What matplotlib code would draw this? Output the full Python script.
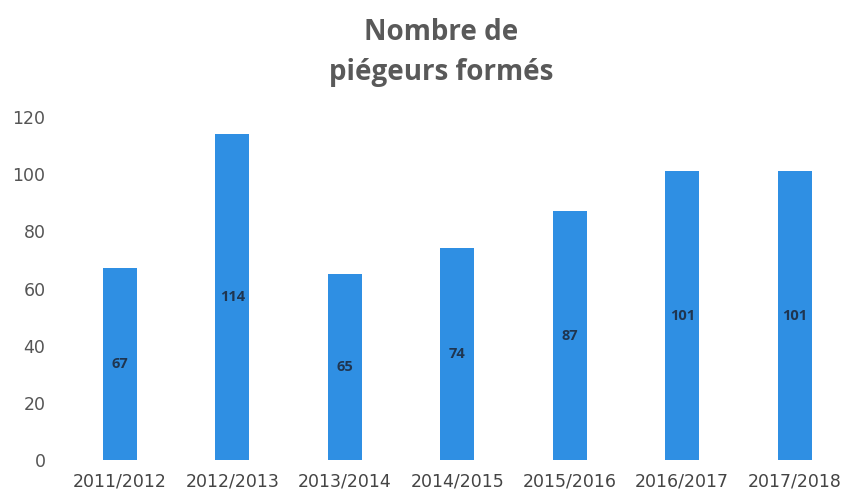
import matplotlib
matplotlib.use("Agg")
import matplotlib.pyplot as plt

categories = ["2011/2012", "2012/2013", "2013/2014", "2014/2015",
              "2015/2016", "2016/2017", "2017/2018"]
values = [67, 114, 65, 74, 87, 101, 101]
yticks = [0, 20, 40, 60, 80, 100, 120]

fig = plt.figure(figsize=(8.51, 5.0), dpi=100)
ax = fig.add_axes([63.5/851, (500-460)/500, (851-63.5)/851, (460-117)/500])

x = list(range(len(categories)))
ax.bar(x, values, width=0.3, color="#2F8FE3")
for xi, v in zip(x, values):
    ax.text(xi, v/2, str(v), ha="center", va="center", fontsize=10.5,
            fontweight="bold", color="#1F3550", family="Open Sans")

ax.set_xlim(-0.5, len(categories) - 0.5)
ax.set_ylim(0, 120)
ax.set_yticks(yticks)
ax.set_yticklabels([str(t) for t in yticks], family="DejaVu Sans", fontsize=12.5, color="#555555")
ax.set_xticks(x)
ax.set_xticklabels(categories, family="DejaVu Sans", fontsize=12.5, color="#444444")
ax.tick_params(axis="both", length=0)
ax.tick_params(axis="y", pad=13)
ax.tick_params(axis="x", pad=9)
for s in ax.spines.values():
    s.set_visible(False)

fig.text(0.518, 0.895, "Nombre de\npiégeurs formés", ha="center", va="center",
         fontsize=20, fontweight="bold", color="#595959", family="Open Sans",
         linespacing=1.5)

fig.savefig("out.png", dpi=100)
